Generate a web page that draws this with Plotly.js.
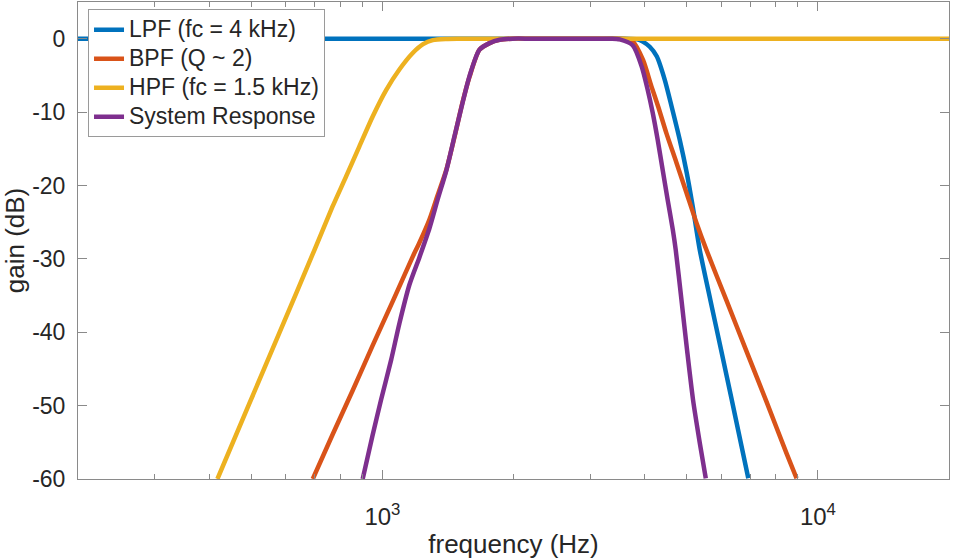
<!DOCTYPE html>
<html>
<head>
<meta charset="utf-8">
<script src="https://cdn.plot.ly/plotly-3.0.1.min.js"></script>
<style>html,body{margin:0;padding:0;background:#fff;}#chart{width:953px;height:560px;}</style>
</head>
<body>
<div id="chart"></div>
<script>
// Series names
const seriesNames = ["LPF (fc = 4 kHz)", "BPF (Q ~ 2)", "HPF (fc = 1.5 kHz)", "System Response"];

// LPF (fc = 4 kHz)
const lpfFreq = [200, 1000, 3000, 3600, 3850, 3961, 4110, 4265, 4450, 4617, 4818, 4999, 5160, 5356, 5663, 5993, 6341, 6921];
const lpfGain = [0, 0, 0, 0, -0.1, -0.4, -1.1, -2.4, -5.6, -9.3, -13.8, -18.3, -22.9, -28.8, -35.6, -42.4, -49.2, -59.9];

// BPF (Q ~ 2)
const bpfFreq = [692, 769, 855, 950, 1056, 1174, 1216, 1283, 1338, 1403, 1464, 1527, 1585, 1671, 1762, 1858, 1990, 2200, 3000, 3400, 3600, 3762, 3967, 4147, 4295, 4490, 4734, 4991, 5263, 5548, 6169, 6857, 7623, 8472, 8933];
const bpfGain = [-60, -53.9, -47.9, -41.8, -35.8, -29.7, -27.8, -24.6, -21.4, -17.8, -13.4, -8.7, -5.2, -1.5, -0.6, -0.15, 0, 0, 0, 0, -0.05, -0.4, -2.9, -6.5, -9.2, -12.9, -16.9, -21, -25.1, -28.8, -35.7, -42.6, -49.5, -56.5, -59.9];

// HPF (fc = 1.5 kHz)
const hpfFreq = [418, 495, 580, 698, 768, 825, 885, 950, 1020, 1094, 1174, 1240, 1305, 1400, 1500, 1671, 5000, 20000];
const hpfGain = [-60, -49.7, -40.1, -28.8, -22.9, -18.8, -14.7, -10.6, -7.0, -4.2, -1.95, -0.75, -0.2, -0.03, 0, 0, 0, 0];

// System Response
const sysFreq = [901, 948, 993, 1047, 1094, 1154, 1216, 1283, 1338, 1403, 1464, 1527, 1585, 1671, 1762, 1858, 1990, 2200, 3000, 3350, 3506, 3755, 3939, 4067, 4175, 4287, 4402, 4520, 4642, 4716, 4861, 5006, 5167, 5356, 5528];
const sysGain = [-60, -54.2, -49.2, -43.8, -38.8, -33.5, -29.8, -25.8, -22, -17.9, -13.3, -8.8, -5.1, -1.5, -0.6, -0.15, 0, 0, 0, 0, -0.1, -0.9, -3.8, -7, -10.1, -13.8, -17.9, -22, -26, -28.8, -35.6, -42.4, -49.2, -55.1, -59.9];

// Axis ticks
const yTicks = [-60, -50, -40, -30, -20, -10, 0];
const yTickText = ["-60", "-50", "-40", "-30", "-20", "-10", "0"];
const xTicks = [1000, 10000];
const xTickText = ["10<sup>3</sup>", "10<sup>4</sup>"];
const xMinorTicks = [300, 400, 500, 600, 700, 800, 900, 2000, 3000, 4000, 5000, 6000, 7000, 8000, 9000];

const colors = ["#0072BD", "#D95319", "#EDB120", "#7E2F8E"];
const xs = [lpfFreq, bpfFreq, hpfFreq, sysFreq];
const ys = [lpfGain, bpfGain, hpfGain, sysGain];

const traces = seriesNames.map((name, i) => ({
  type: "scatter",
  mode: "lines",
  name: '<span style="font-size:23px">' + name + '</span>',
  x: xs[i],
  y: ys[i],
  line: {color: colors[i], width: 4.5, shape: "spline", smoothing: 0.7}
}));

const font = "Liberation Sans, Arial, Helvetica, sans-serif";
const axisColor = "#8a8a8a";
const textColor = "#262626";

const layout = {
  width: 953,
  height: 560,
  margin: {l: 78, r: 4, t: 2, b: 81},
  paper_bgcolor: "#ffffff",
  plot_bgcolor: "#ffffff",
  font: {family: font, color: textColor, size: 22},
  showlegend: true,
  legend: {
    x: 0.0115, y: 0.985, xanchor: "left", yanchor: "top",
    bgcolor: "#ffffff", bordercolor: "#9a9a9a", borderwidth: 1,
    font: {family: font, size: 20, color: textColor},
    tracegroupgap: 0
  },
  xaxis: {
    type: "log",
    range: [Math.log10(200), Math.log10(20000)],
    tickmode: "array",
    tickvals: xTicks,
    ticktext: xTickText,
    ticks: "inside",
    ticklen: 9,
    tickwidth: 1,
    tickcolor: axisColor,
    showline: true,
    linecolor: axisColor,
    linewidth: 1,
    mirror: "ticks",
    showgrid: false,
    zeroline: false,
    ticklabelstandoff: 16,
    tickfont: {family: font, size: 24, color: textColor},
    minor: {tickmode: "array", tickvals: xMinorTicks, ticks: "inside", ticklen: 5, tickcolor: axisColor, showgrid: false},
    title: {text: "frequency (Hz)", font: {family: font, size: 26, color: textColor}, standoff: 6}
  },
  yaxis: {
    range: [-60, 5],
    tickmode: "array",
    tickvals: yTicks,
    ticktext: yTickText,
    ticks: "inside",
    ticklen: 9,
    tickwidth: 1,
    tickcolor: axisColor,
    showline: true,
    linecolor: axisColor,
    linewidth: 1,
    mirror: "ticks",
    showgrid: false,
    zeroline: false,
    ticklabelstandoff: 7,
    tickfont: {family: font, size: 23, color: textColor},
    title: {text: "gain (dB)", font: {family: font, size: 26, color: textColor}, standoff: 8}
  }
};

Plotly.newPlot("chart", traces, layout, {displayModeBar: false, staticPlot: true});
</script>
</body>
</html>
